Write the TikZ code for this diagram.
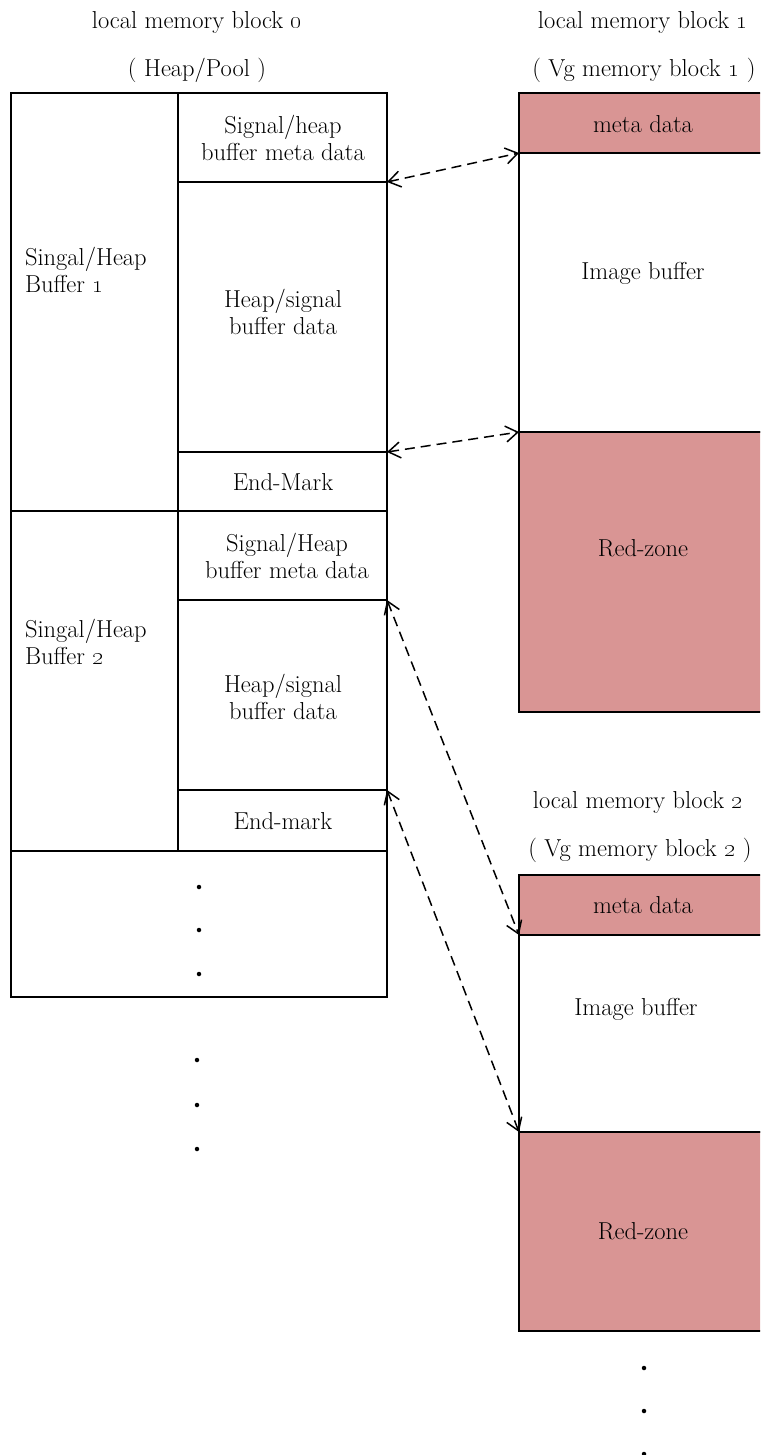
\documentclass[tikz,border=0pt]{standalone}
\usetikzlibrary{arrows.meta}
\definecolor{redzone}{RGB}{217,149,148}
\begin{document}
\begin{tikzpicture}[x=1pt,y=-1pt,
  every node/.style={font=\fontsize{24.5}{27.5}\selectfont, inner sep=0pt, outer sep=0pt},
  cell/.style={draw=black, line width=2.4pt, anchor=north west},
  redcell/.style={cell, fill=redzone},
  lbl/.style={align=center},
  llbl/.style={align=left, anchor=west},
  link/.style={dashed, dash pattern=on 10pt off 6pt, line width=1.5pt, {Straight Barb[length=12pt,width=16pt,line width=1.5pt]}-{Straight Barb[length=12pt,width=16pt,line width=1.5pt]}},
  dot/.style={circle, fill=black, minimum size=4.5pt, inner sep=0pt}
]
\useasboundingbox (0,0) rectangle (760,1455);
\clip (0,0) rectangle (760,1455);

% titles
\node[lbl] (t0a) at (197,22) {local memory block \oldstylenums{0}};
\node[lbl] (t0b) at (197,70) {( Heap/Pool )};
\node[lbl] (t1a) at (643,22) {local memory block \oldstylenums{1}};
\node[lbl] (t1b) at (644,70) {( Vg memory block \oldstylenums{1} )};
\node[lbl] (t2a) at (638,802) {local memory block \oldstylenums{2}};
\node[lbl] (t2b) at (640,850) {( Vg memory block \oldstylenums{2} )};

% left pool
\node[cell, minimum width=167, minimum height=418] (buf1) at (11,93) {};
\node[cell, minimum width=167, minimum height=340] (buf2) at (11,511) {};
\node[cell, minimum width=209, minimum height=89] (meta1) at (178,93) {};
\node[cell, minimum width=209, minimum height=270] (data1) at (178,182) {};
\node[cell, minimum width=209, minimum height=59] (end1) at (178,452) {};
\node[cell, minimum width=209, minimum height=89] (meta2) at (178,511) {};
\node[cell, minimum width=209, minimum height=190] (data2) at (178,600) {};
\node[cell, minimum width=209, minimum height=61] (end2) at (178,790) {};
\node[cell, minimum width=376, minimum height=146] (more) at (11,851) {};

\node[llbl] (buf1t) at (25,270) {Singal/Heap\\Buffer \oldstylenums{1}};
\node[llbl] (buf2t) at (25,642) {Singal/Heap\\Buffer \oldstylenums{2}};
\node[lbl] (meta1t) at (283,138) {Signal/heap\\buffer meta data};
\node[lbl] (data1t) at (283,312) {Heap/signal\\buffer data};
\node[lbl] (end1t) at (283,482) {End-Mark};
\node[lbl] (meta2t) at (287,556) {Signal/Heap\\buffer meta data};
\node[lbl] (data2t) at (283,697) {Heap/signal\\buffer data};
\node[lbl] (end2t) at (283,821) {End-mark};

\node[dot] (d1) at (199,887) {};
\node[dot] (d2) at (199,930) {};
\node[dot] (d3) at (199,974) {};
\node[dot] (d4) at (197,1060) {};
\node[dot] (d5) at (197,1105) {};
\node[dot] (d6) at (197,1149) {};

% right block 1
\node[redcell, minimum width=250, minimum height=60] (r1meta) at (519,93) {};
\node[cell, minimum width=250, minimum height=279] (r1img) at (519,153) {};
\node[redcell, minimum width=250, minimum height=280] (r1red) at (519,432) {};
\node[lbl] (r1metat) at (643,124) {meta data};
\node[lbl] (r1imgt) at (643,273) {Image buffer};
\node[lbl] (r1redt) at (643,548) {Red-zone};

% right block 2
\node[redcell, minimum width=250, minimum height=60] (r2meta) at (519,875) {};
\node[cell, minimum width=250, minimum height=197] (r2img) at (519,935) {};
\node[redcell, minimum width=250, minimum height=199] (r2red) at (519,1132) {};
\node[lbl] (r2metat) at (643,905) {meta data};
\node[lbl] (r2imgt) at (636,1009) {Image buffer};
\node[lbl] (r2redt) at (643,1231) {Red-zone};

\node[dot] (d7) at (644,1368) {};
\node[dot] (d8) at (644,1411) {};
\node[dot] (d9) at (644,1454) {};

% links
\draw[link] (meta1.south east) -- (r1meta.south west);
\draw[link] (data1.south east) -- (r1img.south west);
\draw[link] (meta2.south east) -- (r2meta.south west);
\draw[link] (data2.south east) -- (r2img.south west);
\end{tikzpicture}
\end{document}
